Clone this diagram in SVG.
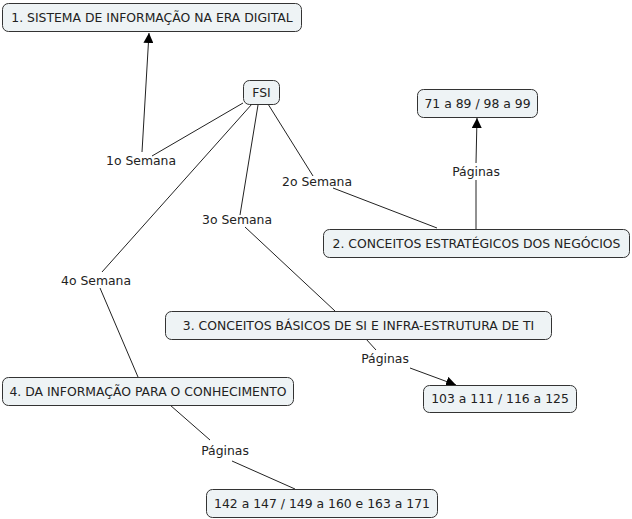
<svg xmlns="http://www.w3.org/2000/svg" width="632" height="519" viewBox="0 0 632 519">
<style>
.box{fill:#eef3f5;stroke:#333;stroke-width:1}
.t{font-family:"DejaVu Sans",Verdana,sans-serif;font-size:12.4px;fill:#222}
.c{stroke:#222;stroke-width:1;fill:none}
.lbl{font-family:"DejaVu Sans",Verdana,sans-serif;font-size:12.4px;fill:#222;text-anchor:middle}
</style>
<defs>
<marker id="ah" viewBox="0 0 10 10" refX="10" refY="5" markerWidth="10" markerHeight="10" markerUnits="userSpaceOnUse" orient="auto">
<path d="M0,0 L10,5 L0,10 z" fill="#000"/>
</marker>
</defs>
<rect width="632" height="519" fill="#fff"/>
<g id="connectors">
<line class="c" x1="243" y1="103" x2="152" y2="156"/>
<line class="c" x1="142" y1="152" x2="149" y2="33" marker-end="url(#ah)"/>
<line class="c" x1="268" y1="104" x2="313" y2="176"/>
<line class="c" x1="333" y1="188" x2="437" y2="228"/>
<line class="c" x1="258" y1="105" x2="240" y2="215"/>
<line class="c" x1="245" y1="227" x2="335" y2="311"/>
<line class="c" x1="252" y1="104" x2="102" y2="272"/>
<line class="c" x1="100" y1="288" x2="138" y2="377"/>
<line class="c" x1="476" y1="229" x2="476" y2="180"/>
<line class="c" x1="476" y1="163" x2="477" y2="118" marker-end="url(#ah)"/>
<line class="c" x1="366" y1="339" x2="376" y2="350"/>
<line class="c" x1="410" y1="368" x2="456" y2="385" marker-end="url(#ah)"/>
<line class="c" x1="170" y1="405" x2="210" y2="440"/>
<line class="c" x1="232" y1="461" x2="295" y2="489"/>
<text class="lbl" x="141" y="165">1o Semana</text>
<text class="lbl" x="317" y="186">2o Semana</text>
<text class="lbl" x="237" y="224">3o Semana</text>
<text class="lbl" x="96" y="285">4o Semana</text>
<text class="lbl" x="476" y="176">Páginas</text>
<text class="lbl" x="385" y="363">Páginas</text>
<text class="lbl" x="225" y="455">Páginas</text>
</g>
<g id="n1"><rect class="box" x="2.5" y="3.5" width="299" height="28" rx="6"/><text class="t" x="152" y="22" text-anchor="middle">1. SISTEMA DE INFORMAÇÃO NA ERA DIGITAL</text></g>
<g id="fsi"><rect class="box" x="243.5" y="80.5" width="36" height="24" rx="6"/><text class="t" x="261.5" y="97" text-anchor="middle">FSI</text></g>
<g id="p2"><rect class="box" x="417.5" y="89.5" width="120" height="28" rx="6"/><text class="t" x="477.5" y="108" text-anchor="middle">71 a 89 / 98 a 99</text></g>
<g id="n2"><rect class="box" x="323.5" y="229.5" width="306" height="28" rx="6"/><text class="t" x="476.5" y="248" text-anchor="middle">2. CONCEITOS ESTRATÉGICOS DOS NEGÓCIOS</text></g>
<g id="n3"><rect class="box" x="165.5" y="311.5" width="386" height="28" rx="6"/><text class="t" x="358.5" y="330" text-anchor="middle">3. CONCEITOS BÁSICOS DE SI E INFRA-ESTRUTURA DE TI</text></g>
<g id="p3"><rect class="box" x="423.5" y="385.5" width="153" height="27" rx="6"/><text class="t" x="500" y="403" text-anchor="middle">103 a 111 / 116 a 125</text></g>
<g id="n4"><rect class="box" x="2.5" y="377.5" width="291" height="28" rx="6"/><text class="t" x="148" y="396" text-anchor="middle">4. DA INFORMAÇÃO PARA O CONHECIMENTO</text></g>
<g id="p4"><rect class="box" x="206.5" y="489.5" width="231" height="28" rx="6"/><text class="t" x="322" y="508" text-anchor="middle">142 a 147 / 149 a 160 e 163 a 171</text></g>
</svg>
